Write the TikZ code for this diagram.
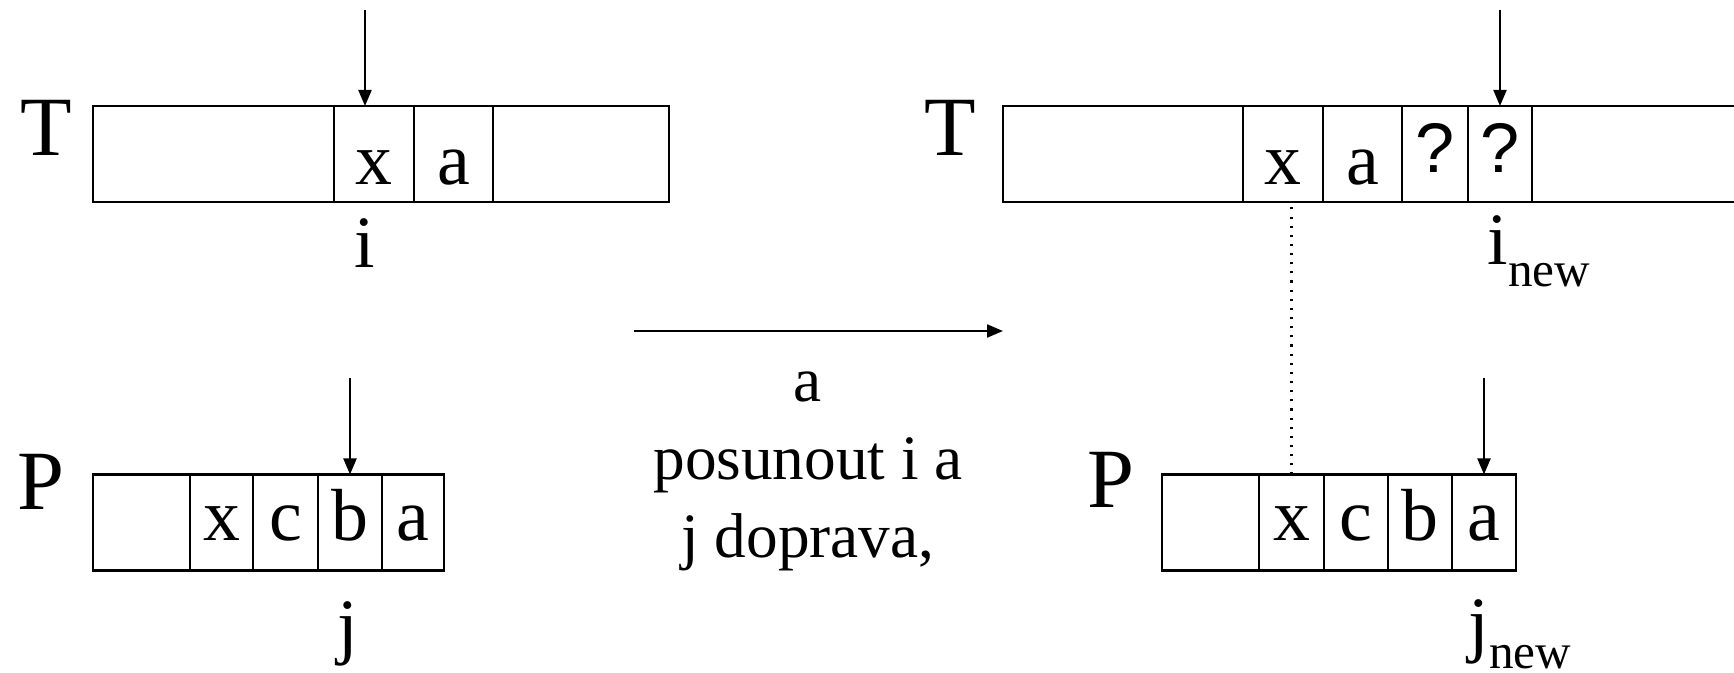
\documentclass[tikz,border=0pt]{standalone}
\usepackage{fontspec}
\setmainfont{Liberation Serif}
\newfontfamily\qfont{Liberation Sans}
\usetikzlibrary{arrows.meta, positioning}

\newcommand\cellfont{\fontsize{21}{25}\selectfont}
\newcommand\tapefont{\fontsize{24}{29}\selectfont}
\newcommand\idxfont{\fontsize{21}{25}\selectfont}
\newcommand\subfont{\fontsize{14}{17}\selectfont}

\tikzset{
  cell/.style={draw, line width=0.8pt, inner sep=0pt, outer sep=0pt,
    minimum height=0.96cm, font=\cellfont, text depth=0pt},
  tcell/.style={cell, text height=0.62cm},
  qcell/.style={cell, text height=0.38cm, font=\qfont\fontsize{20}{24}\selectfont},
  pcell/.style={cell, text height=0.37cm},
  ptr/.style={-{Triangle[length=0.16cm, width=0.13cm]}, line width=0.6pt},
  tapename/.style={anchor=base, inner sep=0pt, font=\tapefont},
  idx/.style={anchor=base, inner sep=0pt, font=\idxfont},
}

\begin{document}
\begin{tikzpicture}

\useasboundingbox (0,0) rectangle (17.34,6.73);

% Text T before the step
\node[tapename] (tname) at (0.46,5.17) {T};
\node[tcell, minimum width=2.41cm, anchor=west] (tl0) at (0.93,5.19) {};
\node[tcell, minimum width=0.80cm, right=0pt of tl0] (tl1) {x};
\node[tcell, minimum width=0.79cm, right=0pt of tl1] (tl2) {a};
\node[tcell, minimum width=1.76cm, right=0pt of tl2] (tl3) {};
\coordinate (ti) at ([shift={(-0.09,0.96)}]tl1.north);
\draw[ptr] (ti) -- (ti |- tl1.north);
\node[idx] (ilab) at (3.65,4.05) {i};

% Pattern P before the step
\node[tapename] (pname) at (0.41,1.63) {P};
\node[pcell, minimum width=0.97cm, anchor=west] (pl0) at (0.93,1.505) {};
\node[pcell, minimum width=0.63cm, right=0pt of pl0] (pl1) {x};
\node[pcell, minimum width=0.65cm, right=0pt of pl1] (pl2) {c};
\node[pcell, minimum width=0.64cm, right=0pt of pl2] (pl3) {b};
\node[pcell, minimum width=0.62cm, right=0pt of pl3] (pl4) {a};
\coordinate (pj) at ([yshift=0.96cm]pl3.north);
\draw[ptr] (pj) -- (pl3.north);
\node[idx] (jlab) at (3.48,0.22) {j};

% Text T after the step
\node[tapename] (tname2) at (9.50,5.17) {T};
\node[tcell, minimum width=2.40cm, anchor=west] (tr0) at (10.03,5.19) {};
\node[tcell, minimum width=0.80cm, right=0pt of tr0] (tr1) {x};
\node[tcell, minimum width=0.79cm, right=0pt of tr1] (tr2) {a};
\node[qcell, minimum width=0.66cm, right=0pt of tr2] (tr3) {?};
\node[qcell, minimum width=0.64cm, right=0pt of tr3] (tr4) {?};
\node[tcell, minimum width=2.20cm, right=0pt of tr4] (tr5) {};
\coordinate (tinew) at ([yshift=0.96cm]tr4.north);
\draw[ptr] (tinew) -- (tr4.north);
\node[idx, anchor=base west] (inew) at (14.87,4.08) {i\raisebox{-0.22cm}{\subfont new}};

% Pattern P after the step
\node[tapename] (pname2) at (11.11,1.65) {P};
\node[pcell, minimum width=0.97cm, anchor=west] (pr0) at (11.62,1.505) {};
\node[pcell, minimum width=0.65cm, right=0pt of pr0] (pr1) {x};
\node[pcell, minimum width=0.64cm, right=0pt of pr1] (pr2) {c};
\node[pcell, minimum width=0.64cm, right=0pt of pr2] (pr3) {b};
\node[pcell, minimum width=0.64cm, right=0pt of pr3] (pr4) {a};
\coordinate (pjnew) at ([yshift=0.96cm]pr4.north);
\draw[ptr] (pjnew) -- (pr4.north);
\node[idx, anchor=base west] (jnew) at (14.68,0.24) {j\raisebox{-0.20cm}{\subfont new}};

% alignment of x in T and P
\draw[dotted, line width=0.6pt] (pr1.north) -- (pr1.north |- tr1.south);

% Step arrow
\coordinate (stepa) at (6.34,3.42);
\draw[ptr] (stepa) -- (tr0.west |- stepa);
\node[anchor=base, align=center, inner sep=0pt, font=\fontsize{18}{22.2}\selectfont] (steptxt)
  at (8.08,1.15) {a\\posunout i a\\j doprava,};

\end{tikzpicture}
\end{document}
